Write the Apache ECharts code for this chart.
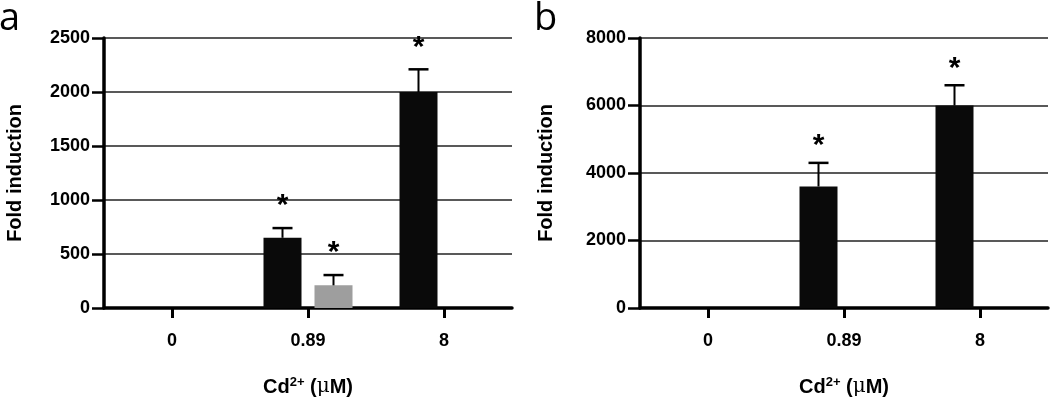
<!DOCTYPE html>
<html><head><meta charset="utf-8">
<script src="https://cdn.jsdelivr.net/npm/echarts@6/dist/echarts.min.js"></script>
<style>html,body{margin:0;padding:0;background:#fff}#c{width:1050px;height:402px}</style>
</head><body><div id="c"></div>
<script>
// ---- data ----
const categories = ['0', '0.89', '8'];
// panel a
const aBlack = [0, 650, 2000];
const aBlackErr = [0, 90, 210];
const aBlackSig = [false, true, true];
const aGray = [0, 210, 0];
const aGrayErr = [0, 95, 0];
const aGraySig = [false, true, false];
// panel b
const bBlack = [0, 3600, 6000];
const bBlackErr = [0, 700, 600];
const bBlackSig = [false, true, true];
const bGray = [0, 0, 0];
// axis ticks
const aTicks = [0, 500, 1000, 1500, 2000, 2500];
const bTicks = [0, 2000, 4000, 6000, 8000];

const FONT = 'Liberation Sans, Arial, sans-serif';
const BAR_W = 38, BAR_GAP = 13;
const OFF = (BAR_W + BAR_GAP) / 2;

function errData(vals, errs, sigs) {
  return vals.map((v, i) => [i, v, errs[i], sigs[i] ? 1 : 0]);
}
function errRender(offset, starGap) {
  return function (params, api) {
    const i = api.value(0), v = api.value(1), e = api.value(2), s = api.value(3);
    if (!e && !s) return null;
    const base = api.coord([i, v]);
    const top = api.coord([i, v + e]);
    const x = base[0] + offset;
    const children = [];
    if (e) {
      children.push({ type: 'line', shape: { x1: x, y1: base[1], x2: x, y2: top[1] },
        style: { stroke: '#000', lineWidth: 2 } });
      children.push({ type: 'line', shape: { x1: x - 10, y1: top[1], x2: x + 10, y2: top[1] },
        style: { stroke: '#000', lineWidth: 2.5 } });
    }
    if (s) {
      children.push({ type: 'text', x: x, y: top[1] - starGap,
        style: { text: '*', fontSize: 30, fontWeight: 'bold', fontFamily: FONT,
          fill: '#000', align: 'center', verticalAlign: 'middle' } });
    }
    return { type: 'group', children };
  };
}

function xAxisOpt(gi) {
  return {
    type: 'category', gridIndex: gi, data: categories,
    axisLine: { show: true, lineStyle: { color: '#000', width: 3.5 } },
    axisTick: { show: true, alignWithLabel: true, length: 10, lineStyle: { color: '#000', width: 3 } },
    axisLabel: { color: '#000', fontSize: 18, fontWeight: 'bold', fontFamily: FONT, margin: 24 },
    splitLine: { show: false },
    name: '{a|Cd}{s|2+}{a| (}{m|μ}{a|M)}',
    nameLocation: 'middle', nameGap: 68,
    nameTextStyle: {
      rich: {
        a: { fontSize: 20, fontWeight: 'bold', fontFamily: FONT, color: '#000' },
        s: { fontSize: 13, fontWeight: 'bold', fontFamily: FONT, color: '#000', verticalAlign: 'top', padding: [0, 0, 9, 0] },
        m: { fontSize: 20, fontWeight: 'normal', fontFamily: 'DejaVu Serif, serif', color: '#000' }
      }
    }
  };
}
function yAxisOpt(gi, ticks, gap) {
  const step = ticks[1] - ticks[0];
  return {
    type: 'value', gridIndex: gi, min: ticks[0], max: ticks[ticks.length - 1], interval: step,
    axisLine: { show: true, lineStyle: { color: '#000', width: 3.5 } },
    axisTick: { show: true, length: 12, lineStyle: { color: '#000', width: 2.5 } },
    axisLabel: { color: '#000', fontSize: 18, fontWeight: 'bold', fontFamily: FONT, margin: 14,
      formatter: v => String(v) },
    splitLine: { show: true, lineStyle: { color: '#222', width: 1.5 } },
    name: 'Fold induction', nameLocation: 'middle', nameGap: gap, nameRotate: 90,
    nameTextStyle: { fontSize: 20, fontWeight: 'bold', fontFamily: FONT, color: '#000' }
  };
}

const chart = echarts.init(document.getElementById('c'), null, { renderer: 'canvas' });
chart.setOption({
  animation: false,
  backgroundColor: '#fff',
  title: [
    { text: 'a', left: -1, top: 0, padding: 0, textStyle: { fontSize: 38, fontWeight: 'normal', fontFamily: 'Open Sans, sans-serif', color: '#000' } },
    { text: 'b', left: 534, top: 0, padding: 0, textStyle: { fontSize: 38, fontWeight: 'normal', fontFamily: 'Open Sans, sans-serif', color: '#000' } }
  ],
  grid: [
    { left: 104, right: 538, top: 38, bottom: 90 },
    { left: 640, right: 2, top: 38, bottom: 91 }
  ],
  xAxis: [xAxisOpt(0), xAxisOpt(1)],
  yAxis: [yAxisOpt(0, aTicks, 79), yAxisOpt(1, bTicks, 84)],
  series: [
    { type: 'bar', xAxisIndex: 0, yAxisIndex: 0, data: aBlack, barWidth: BAR_W, barGap: (BAR_GAP / BAR_W * 100) + '%',
      itemStyle: { color: '#0a0a0a' } },
    { type: 'bar', xAxisIndex: 0, yAxisIndex: 0, data: aGray, barWidth: BAR_W,
      itemStyle: { color: '#9e9e9e' } },
    { type: 'custom', xAxisIndex: 0, yAxisIndex: 0, data: errData(aBlack, aBlackErr, aBlackSig),
      renderItem: errRender(-OFF, 22), z: 5 },
    { type: 'custom', xAxisIndex: 0, yAxisIndex: 0, data: errData(aGray, aGrayErr, aGraySig),
      renderItem: errRender(OFF, 22), z: 5 },
    { type: 'bar', xAxisIndex: 1, yAxisIndex: 1, data: bBlack, barWidth: BAR_W, barGap: (BAR_GAP / BAR_W * 100) + '%',
      itemStyle: { color: '#0a0a0a' } },
    { type: 'bar', xAxisIndex: 1, yAxisIndex: 1, data: bGray, barWidth: BAR_W,
      itemStyle: { color: '#9e9e9e' } },
    { type: 'custom', xAxisIndex: 1, yAxisIndex: 1, data: errData(bBlack, bBlackErr, bBlackSig),
      renderItem: errRender(-OFF, 17), z: 5 }
  ]
});
</script>
</body></html>
